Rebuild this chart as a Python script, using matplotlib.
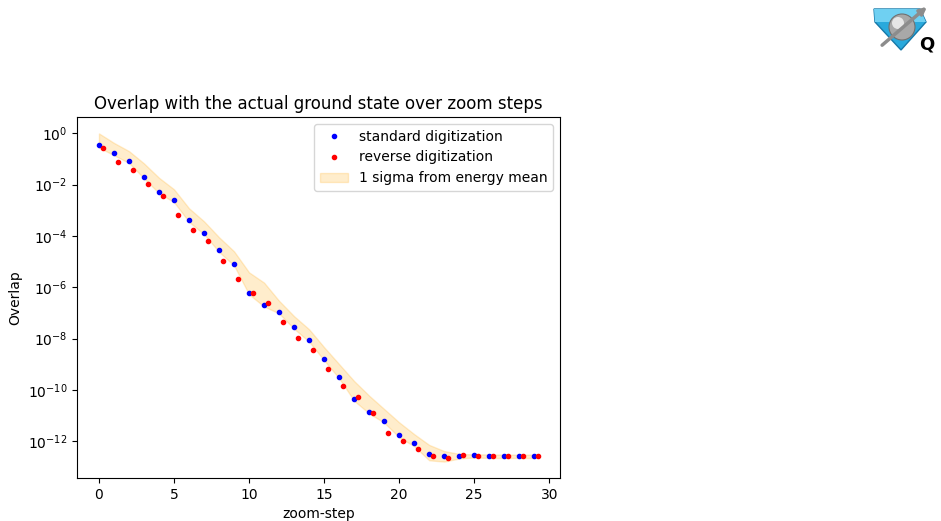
import matplotlib.pyplot as plt
import numpy as np
from matplotlib.patches import Polygon, Circle, FancyArrowPatch

# zoom steps
steps = np.arange(30)
red_shift = 0.25

# log10 of overlap
std_log = [-0.47, -0.78, -1.08, -1.69, -2.27, -2.61, -3.38, -3.87, -4.55, -5.08,
           -6.22, -6.69, -6.95, -7.56, -8.05, -8.78, -9.49, -10.37, -10.86, -11.21,
           -11.78, -12.09, -12.51, -12.58, -12.58, -12.53, -12.57, -12.58, -12.58, -12.58]
rev_log = [-0.58, -1.12, -1.43, -1.96, -2.45, -3.17, -3.75, -4.21, -4.96, -5.66,
           -6.22, -6.60, -7.35, -7.97, -8.45, -9.18, -9.87, -10.28, -10.91, -11.70,
           -12.01, -12.30, -12.58, -12.65, -12.53, -12.57, -12.58, -12.58, -12.58, -12.58]
band_hi_log = [0.0, -0.37, -0.69, -1.17, -1.73, -2.18, -2.92, -3.43, -4.05, -4.60,
               -5.42, -5.82, -6.53, -7.13, -7.64, -8.34, -9.0, -9.66, -10.23, -10.75,
               -11.27, -11.73, -12.15, -12.39, -12.50, -12.52, -12.52, -12.53, -12.53, -12.53]
band_lo_log = [-0.55, -0.85, -1.15, -1.75, -2.33, -2.68, -3.45, -3.93, -4.62, -5.15,
               -6.28, -6.75, -7.02, -7.62, -8.12, -8.85, -9.55, -10.43, -10.92, -11.28,
               -11.85, -12.2, -12.75, -12.8, -12.68, -12.64, -12.66, -12.66, -12.66, -12.66]

std = 10 ** np.array(std_log)
rev = 10 ** np.array(rev_log)
band_hi = 10 ** np.array(band_hi_log)
band_lo = 10 ** np.array(band_lo_log)

fig = plt.figure(figsize=(9.41, 5.21), dpi=100)
ax = fig.add_axes([77 / 941, 43 / 521, 483 / 941, 361 / 521])

ax.plot(steps, std, 'b.', label='standard digitization')
ax.plot(steps + red_shift, rev, 'r.', label='reverse digitization')
ax.fill_between(steps, band_lo, band_hi, color='orange', alpha=0.2,
                label='1 sigma from energy mean')
ax.set_yscale('log')
ax.set_title('Overlap with the actual ground state over zoom steps')
ax.set_xlabel('zoom-step')
ax.set_ylabel('Overlap')
ax.legend(loc='upper right')

# little logo top right
lg = fig.add_axes([860 / 941, 1 - 60 / 521, 81 / 941, 60 / 521])
lg.set_xlim(860, 941)
lg.set_ylim(60, 0)
lg.axis('off')
lg.add_patch(Polygon([(874, 9), (920, 9), (926, 22), (901, 50), (875, 22)],
                     closed=True, fc='#29a9dc', ec='#1678a8', lw=1))
lg.add_patch(Polygon([(874, 9), (920, 9), (926, 22), (875, 22)],
                     closed=True, fc='#6fd0f2', ec='none'))
lg.add_patch(Circle((902, 27), 13, fc='#a8a8a8', ec='#707070', lw=0.8))
lg.add_patch(Circle((898, 23), 6, fc='#e6e6e6', ec='none'))
lg.add_patch(FancyArrowPatch((880, 47), (929, 5), arrowstyle='-|>', mutation_scale=10,
                             color='#8c8c8c', lw=2.5))
lg.text(927, 45, 'Q', fontsize=13, fontweight='bold', ha='center', va='center')

fig.savefig('out.png', dpi=100)
